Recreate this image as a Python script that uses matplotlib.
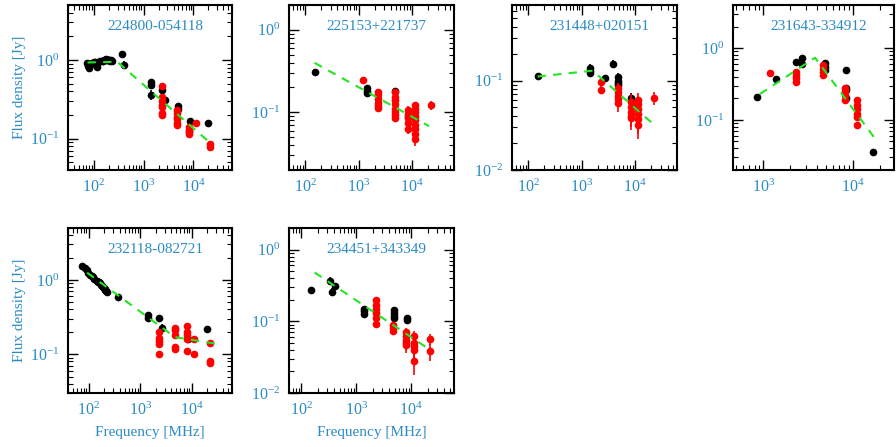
import matplotlib
matplotlib.use("Agg")
import matplotlib.pyplot as plt

plt.rcParams['font.family'] = ['Liberation Serif', 'DejaVu Serif']
plt.rcParams['mathtext.fontset'] = 'stix'

BLUE = '#2a8bc5'
GREEN = '#22e622'

# ---- 224800-054118
p1_name = '224800-054118'
p1_bf = [74, 76, 80, 84, 88, 92, 99, 107, 115, 122, 130, 143, 151, 158, 166, 174, 181, 189, 197, 204, 212, 220, 227,
         365, 408, 1400, 1400, 1400, 2300, 2700, 4850, 4850, 8400, 20000]
p1_bs = [0.92, 0.85, 0.80, 0.90, 0.88, 0.92, 0.95, 0.93, 0.82, 0.95, 0.97, 0.98, 0.96, 1.0, 1.0, 1.02, 1.0, 1.01, 0.99, 1.0, 0.98, 0.99, 0.97,
         1.19, 0.86, 0.53, 0.48, 0.36, 0.42, 0.31, 0.26, 0.24, 0.17, 0.16]
p1_be = [0.08, 0.08, 0.07, 0.07, 0.07, 0.06, 0.06, 0.06, 0.06, 0.05, 0.05, 0.05, 0.05, 0.05, 0.05, 0.05, 0.05, 0.05, 0.05, 0.05, 0.05, 0.05, 0.05,
         0.06, 0.1, 0.03, 0.03, 0.05, 0.04, 0.03, 0.02, 0.02, 0.01, 0.01]
p1_rf = [2300, 2300, 2300, 2300, 2300, 2300, 2300, 4700, 4700, 4700, 4700, 4700, 4700, 8200, 8200, 8200, 8200, 8200, 11200, 22000, 22000]
p1_rs = [0.47, 0.34, 0.30, 0.27, 0.25, 0.21, 0.20, 0.23, 0.21, 0.19, 0.18, 0.16, 0.15, 0.14, 0.13, 0.125, 0.12, 0.115, 0.158, 0.085, 0.078]
p1_re = [0.03, 0.02, 0.02, 0.02, 0.02, 0.015, 0.015, 0.015, 0.015, 0.01, 0.01, 0.01, 0.01, 0.01, 0.01, 0.01, 0.01, 0.01, 0.01, 0.008, 0.008]
p1_ff = [74, 293, 23000]
p1_fs = [0.93, 0.95, 0.086]

# ---- 225153+221737
p2_name = '225153+221737'
p2_bf = [150, 1400, 1400, 1400, 4850, 8400]
p2_bs = [0.31, 0.196, 0.18, 0.17, 0.18, 0.09]
p2_be = [0.02, 0.02, 0.015, 0.015, 0.02, 0.01]
p2_rf = [1200, 2300, 2300, 2300, 2300, 2300, 2300, 4700, 4700, 4700, 4700, 4700, 4700, 4700, 4700,
         8200, 8200, 8200, 8200, 8200, 11200, 11200, 11200, 11200, 11200, 11200, 11200, 11200, 11200, 22000]
p2_rs = [0.246, 0.178, 0.16, 0.145, 0.13, 0.12, 0.112, 0.178, 0.155, 0.14, 0.125, 0.11, 0.1, 0.092, 0.085,
         0.108, 0.095, 0.085, 0.075, 0.062, 0.123, 0.11, 0.1, 0.09, 0.08, 0.07, 0.062, 0.055, 0.047, 0.123]
p2_re = [0.025, 0.012, 0.01, 0.01, 0.01, 0.01, 0.01, 0.015, 0.012, 0.01, 0.01, 0.01, 0.01, 0.01, 0.008,
         0.01, 0.01, 0.01, 0.008, 0.008, 0.012, 0.01, 0.01, 0.01, 0.01, 0.008, 0.008, 0.008, 0.008, 0.015]
p2_ff = [150, 20500]
p2_fs = [0.398, 0.068]

# ---- 231448+020151
p3_name = '231448+020151'
p3_bf = [150, 1400, 1400, 1400, 2700, 3900, 4850, 4850, 4850, 4850, 8400, 10700]
p3_bs = [0.113, 0.137, 0.128, 0.123, 0.106, 0.153, 0.11, 0.1, 0.095, 0.09, 0.064, 0.055]
p3_be = [0.01, 0.015, 0.01, 0.01, 0.01, 0.015, 0.01, 0.01, 0.01, 0.01, 0.008, 0.008]
p3_rf = [2300, 2300, 4700, 4700, 4700, 4700, 4700, 8200, 8200, 8200, 8200, 8200,
         11200, 11200, 11200, 11200, 11200, 11200, 22000]
p3_rs = [0.097, 0.078, 0.082, 0.075, 0.068, 0.062, 0.056, 0.058, 0.05, 0.045, 0.04, 0.038,
         0.061, 0.055, 0.048, 0.042, 0.037, 0.032, 0.064]
p3_re = [0.01, 0.008, 0.012, 0.012, 0.012, 0.012, 0.012, 0.012, 0.012, 0.012, 0.01, 0.01,
         0.012, 0.012, 0.012, 0.012, 0.012, 0.01, 0.01]
p3_ff = [150, 1600, 20000]
p3_fs = [0.111, 0.129, 0.034]

# ---- 231643-334912
p4_name = '231643-334912'
p4_bf = [843, 1400, 2300, 2700, 2700, 4850, 4850, 4900, 8400, 8400, 8400, 8400, 17000]
p4_bs = [0.21, 0.377, 0.64, 0.73, 0.61, 0.62, 0.55, 0.49, 0.50, 0.28, 0.26, 0.20, 0.036]
p4_be = [0.02, 0.03, 0.07, 0.07, 0.05, 0.05, 0.04, 0.03, 0.05, 0.02, 0.02, 0.02, 0.002]
p4_rf = [1200, 2300, 2300, 2300, 2300, 4700, 4700, 4700, 4700, 8200, 8200, 8200, 8200,
         11200, 11200, 11200, 11200, 11200, 11200]
p4_rs = [0.45, 0.47, 0.42, 0.38, 0.34, 0.58, 0.52, 0.47, 0.42, 0.28, 0.25, 0.22, 0.19,
         0.19, 0.16, 0.14, 0.12, 0.11, 0.085]
p4_re = [0.03, 0.03, 0.03, 0.03, 0.02, 0.03, 0.03, 0.03, 0.02, 0.02, 0.02, 0.015, 0.015,
         0.012, 0.01, 0.01, 0.01, 0.01, 0.008]
p4_ff = [918, 3800, 17400]
p4_fs = [0.229, 0.736, 0.057]

# ---- 232118-082721
p5_name = '232118-082721'
p5_bf = [76, 84, 92, 99, 107, 115, 122, 130, 143, 151, 158, 166, 174, 181, 189, 197, 204, 212, 220, 227,
         365, 1400, 1400, 2300, 2700, 8400, 20000]
p5_bs = [1.52, 1.45, 1.35, 1.25, 1.18, 1.12, 1.08, 1.02, 0.98, 0.95, 0.93, 0.90, 0.86, 0.83, 0.80, 0.77, 0.75, 0.73, 0.71, 0.69,
         0.59, 0.34, 0.31, 0.31, 0.227, 0.16, 0.215]
p5_be = [0.1, 0.1, 0.09, 0.08, 0.07, 0.07, 0.06, 0.06, 0.05, 0.05, 0.05, 0.05, 0.05, 0.04, 0.04, 0.04, 0.04, 0.04, 0.04, 0.04,
         0.03, 0.03, 0.03, 0.03, 0.025, 0.015, 0.01]
p5_rf = [2300, 2300, 2300, 2300, 2300, 4700, 4700, 4700, 4700, 4700, 8200, 8200, 8200, 8200, 8200,
         11200, 11200, 22000, 22000, 22000]
p5_rs = [0.2, 0.165, 0.15, 0.135, 0.1, 0.226, 0.21, 0.18, 0.123, 0.117, 0.24, 0.2, 0.18, 0.158, 0.11,
         0.16, 0.1, 0.14, 0.08, 0.076]
p5_re = [0.015, 0.012, 0.01, 0.01, 0.008, 0.015, 0.015, 0.012, 0.01, 0.01, 0.02, 0.015, 0.015, 0.012, 0.01,
         0.015, 0.008, 0.015, 0.008, 0.008]
p5_ff = [94, 4700, 28000]
p5_fs = [1.25, 0.17, 0.139]

# ---- 234451+343349
p6_name = '234451+343349'
p6_bf = [150, 330, 370, 408, 1400, 1400, 1400, 4850, 4850, 4850, 4850, 8400, 8400]
p6_bs = [0.27, 0.37, 0.26, 0.31, 0.15, 0.14, 0.128, 0.143, 0.13, 0.12, 0.11, 0.11, 0.105]
p6_be = [0.02, 0.04, 0.03, 0.03, 0.015, 0.015, 0.015, 0.012, 0.01, 0.01, 0.01, 0.01, 0.01]
p6_rf = [2300, 2300, 2300, 2300, 2300, 2300, 4700, 4700, 4700, 8200, 8200, 8200, 8200, 8200,
         11200, 11200, 11200, 11200, 11200, 22000, 22000]
p6_rs = [0.197, 0.17, 0.15, 0.13, 0.11, 0.093, 0.088, 0.08, 0.074, 0.07, 0.062, 0.055, 0.05, 0.046,
         0.063, 0.05, 0.045, 0.04, 0.028, 0.057, 0.038]
p6_re = [0.015, 0.012, 0.012, 0.01, 0.01, 0.01, 0.01, 0.01, 0.01, 0.01, 0.01, 0.01, 0.01, 0.01,
         0.01, 0.01, 0.01, 0.01, 0.01, 0.01, 0.01]
p6_ff = [175, 22000]
p6_fs = [0.48, 0.04]

panels = [
    (p1_name, p1_bf, p1_bs, p1_be, p1_rf, p1_rs, p1_re, p1_ff, p1_fs),
    (p2_name, p2_bf, p2_bs, p2_be, p2_rf, p2_rs, p2_re, p2_ff, p2_fs),
    (p3_name, p3_bf, p3_bs, p3_be, p3_rf, p3_rs, p3_re, p3_ff, p3_fs),
    (p4_name, p4_bf, p4_bs, p4_be, p4_rf, p4_rs, p4_re, p4_ff, p4_fs),
    (p5_name, p5_bf, p5_bs, p5_be, p5_rf, p5_rs, p5_re, p5_ff, p5_fs),
    (p6_name, p6_bf, p6_bs, p6_be, p6_rf, p6_rs, p6_re, p6_ff, p6_fs),
]

xlims = [(30, 6e4), (50, 6e4), (50, 6e4), (460, 2.9e4), (40, 6e4), (60, 6e4)]
ylims = [(0.04, 5), (0.02, 2), (0.01, 0.7), (0.02, 4), (0.03, 5), (0.01, 2)]

W, H = 896, 447
# (left, top) pixel corners of each panel
corners = [(68, 5), (289, 5), (512, 5), (733, 5), (68, 228), (289, 228)]
widths = [164, 165, 165, 161, 164, 165]
ph = 165

fig = plt.figure(figsize=(W / 100, H / 100), dpi=100)

for i, (name, bf, bs, be, rf, rs, re_, ff, fs) in enumerate(panels):
    x0, y0 = corners[i]
    ax = fig.add_axes([x0 / W, 1 - (y0 + ph) / H, widths[i] / W, ph / H])
    ax.set_xscale('log')
    ax.set_yscale('log')
    ax.errorbar(bf, bs, yerr=be, fmt='o', color='black', ms=4.5, elinewidth=1.2, capsize=0, zorder=2)
    ax.errorbar(rf, rs, yerr=re_, fmt='o', color='red', ms=4.5, elinewidth=1.2, capsize=0, zorder=3)
    ax.plot(ff, fs, color=GREEN, lw=1.5, dashes=(4, 3.5), zorder=4)
    ax.set_xlim(*xlims[i])
    ax.set_ylim(*ylims[i])
    ax.text(0.53, 0.87, name, transform=ax.transAxes, ha='center', va='center',
            color=BLUE, fontsize=11)
    ax.tick_params(which='both', direction='in', top=True, right=True,
                   labelcolor=BLUE, labelsize=11.5, pad=6)
    ax.tick_params(which='major', length=7, width=1)
    ax.tick_params(which='minor', length=3.5, width=0.8)
    for s in ax.spines.values():
        s.set_linewidth(1.5)
    if i in (0, 4):
        ax.set_ylabel('Flux density [Jy]', color=BLUE, fontsize=11, labelpad=3)
    if i in (4, 5):
        ax.set_xlabel('Frequency [MHz]', color=BLUE, fontsize=11, labelpad=5)

fig.savefig('out.png', dpi=100)
